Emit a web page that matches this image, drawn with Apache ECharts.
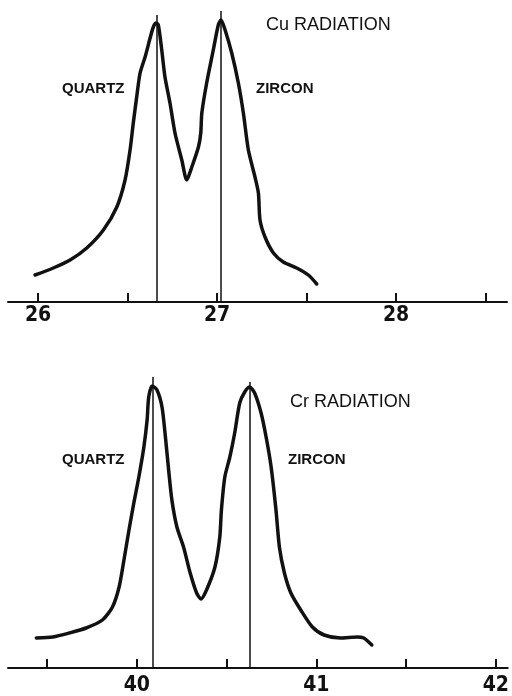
<!DOCTYPE html>
<html lang="en">
  <head>
    <meta charset="UTF-8" />
    <title>Cu / Cr radiation peaks</title>
    <script src="https://cdn.jsdelivr.net/npm/echarts@6.0.0/dist/echarts.min.js"></script>
    <style>
      html,
      body {
        margin: 0;
        padding: 0;
        background: #fff;
      }
      #main {
        width: 512px;
        height: 696px;
      }
    </style>
  </head>
  <body>
    <div id="main"></div>
    <script>
      // Cu radiation trace (2-theta, relative intensity)
      const cuX = [
        25.983, 26.085, 26.179, 26.272, 26.365, 26.44, 26.486, 26.514, 26.532,
        26.551, 26.57, 26.598, 26.626, 26.644, 26.659, 26.672, 26.691, 26.709,
        26.737, 26.765, 26.803, 26.831, 26.859, 26.896, 26.909, 26.915, 26.942,
        26.979, 27.007, 27.022, 27.045, 27.082, 27.119, 27.147, 27.175, 27.212,
        27.231, 27.24, 27.268, 27.315, 27.37, 27.445, 27.51, 27.557,
      ];
      const cuY = [
        27, 34, 42, 54, 72, 95, 122, 152, 179, 205, 229, 245, 264, 275, 279,
        277, 252, 225, 199, 169, 142, 122, 135, 155, 169, 189, 219, 252, 277,
        282, 272, 249, 219, 189, 152, 125, 109, 82, 65, 49, 40, 34, 27, 18,
      ];
      // Cr radiation trace
      const crX = [
        39.44, 39.532, 39.624, 39.717, 39.808, 39.864, 39.901, 39.928, 39.956,
        39.983, 40.011, 40.039, 40.057, 40.066, 40.085, 40.112, 40.14, 40.159,
        40.177, 40.195, 40.223, 40.26, 40.297, 40.333, 40.357, 40.388, 40.435,
        40.462, 40.471, 40.49, 40.518, 40.545, 40.573, 40.601, 40.628, 40.656,
        40.692, 40.72, 40.748, 40.775, 40.794, 40.822, 40.858, 40.913, 40.978,
        41.043, 41.134, 41.227, 41.264, 41.309,
      ];
      const crY = [
        30, 31, 35, 40, 48, 61, 81, 108, 138, 165, 191, 221, 248, 271, 282,
        278, 261, 231, 198, 168, 141, 121, 95, 75, 69, 78, 101, 131, 158, 191,
        211, 235, 265, 276, 281, 275, 255, 231, 201, 158, 121, 95, 75, 58, 41,
        33, 30, 31, 30, 23,
      ];

      // peak marker lines: position and top of line
      const cuPeakX = [26.665, 27.022];
      const cuPeakTop = [287, 291];
      const crPeakX = [40.088, 40.63];
      const crPeakTop = [291, 286];

      const cuTicks = [26, 26.5, 27, 27.5, 28, 28.5];
      const cuLabels = [26, 27, 28];
      const crTicks = [39.5, 40, 40.5, 41, 41.5, 42];
      const crLabels = [40, 41, 42];

      const zip = (xs, ys) => xs.map((x, i) => [x, ys[i]]);
      const peakLines = (xs, tops) =>
        xs.map((x, i) => [{ coord: [x, 0] }, { coord: [x, tops[i]] }]);

      const labelFont =
        "'Liberation Sans Narrow', 'DejaVu Sans Condensed', sans-serif";

      function xAxisFor(gridIndex, min, max, ticks, labels, margin) {
        return {
          type: "value",
          gridIndex: gridIndex,
          min: min,
          max: max,
          splitLine: { show: false },
          axisLine: { lineStyle: { color: "#111", width: 2 } },
          axisTick: {
            inside: true,
            length: 9,
            customValues: ticks,
            lineStyle: { color: "#111", width: 2 },
          },
          axisLabel: {
            customValues: labels,
            margin: margin,
            color: "#111",
            fontFamily: labelFont,
            fontSize: 21,
            fontWeight: "bold",
          },
        };
      }

      function traceSeries(axisIndex, xs, ys, peaks, tops) {
        return {
          type: "line",
          xAxisIndex: axisIndex,
          yAxisIndex: axisIndex,
          data: zip(xs, ys),
          showSymbol: false,
          smooth: 0.25,
          lineStyle: { color: "#111", width: 3.5, cap: "round", join: "round" },
          markLine: {
            silent: true,
            symbol: "none",
            label: { show: false },
            lineStyle: { color: "#111", width: 1.5, type: "solid" },
            data: peakLines(peaks, tops),
          },
        };
      }

      function note(text, x, y, size, bold) {
        return {
          type: "text",
          left: x,
          top: y,
          style: {
            text: text,
            fill: "#111",
            font:
              (bold ? "bold " : "") +
              size +
              "px 'Liberation Sans', Arial, sans-serif",
          },
        };
      }

      const chart = echarts.init(document.getElementById("main"));
      chart.setOption({
        animation: false,
        grid: [
          { left: 8, right: 5, top: 10, bottom: 394 },
          { left: 8, right: 0, top: 376, bottom: 28 },
        ],
        xAxis: [
          xAxisFor(0, 25.832, 28.62, cuTicks, cuLabels, 3),
          xAxisFor(1, 39.282, 42.066, crTicks, crLabels, 7),
        ],
        yAxis: [
          { type: "value", gridIndex: 0, min: 0, max: 292, show: false },
          { type: "value", gridIndex: 1, min: 0, max: 292, show: false },
        ],
        series: [
          traceSeries(0, cuX, cuY, cuPeakX, cuPeakTop),
          traceSeries(1, crX, crY, crPeakX, crPeakTop),
        ],
        graphic: [
          note("Cu RADIATION", 266, 16, 18, false),
          note("QUARTZ", 62, 81, 15, true),
          note("ZIRCON", 256, 81, 15, true),
          note("Cr RADIATION", 290, 393, 18, false),
          note("QUARTZ", 62, 452, 15, true),
          note("ZIRCON", 288, 452, 15, true),
        ],
      });
    </script>
  </body>
</html>
